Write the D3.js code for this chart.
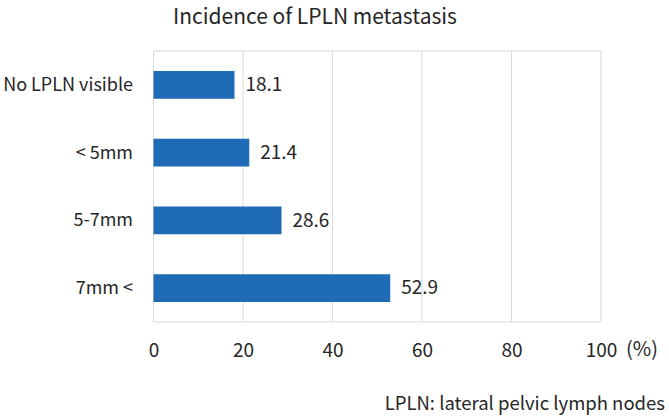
<!DOCTYPE html>
<html><head><meta charset="utf-8">
<script src="https://cdn.jsdelivr.net/npm/d3@7"></script>
<style>body{margin:0;background:#fff}svg{display:block}</style>
</head><body>
<script>
const categories = ["No LPLN visible", "< 5mm", "5-7mm", "7mm <"];
const values = [18.1, 21.4, 28.6, 52.9];
const ticks = [0, 20, 40, 60, 80, 100];
const title = "Incidence of LPLN metastasis";
const unitLabel = "(%)";
const footnote = "LPLN: lateral pelvic lymph nodes";

const W = 669, H = 417;
const font = "'Noto Sans CJK JP', 'Noto Sans', sans-serif";
const txt = "#262626";
const svg = d3.select("body").append("svg").attr("width", W).attr("height", H)
  .style("font-family", font);

const x = d3.scaleLinear().domain([0, 100]).range([153.5, 601]);
const y = d3.scaleBand().domain(categories).range([51, 322]).paddingInner(0.59).paddingOuter(0.295);

// gridlines
svg.append("g").selectAll("line").data(ticks).join("line")
  .attr("x1", d => x(d)).attr("x2", d => x(d)).attr("y1", 51).attr("y2", 322)
  .attr("stroke", "#d9d9d9").attr("stroke-width", 1);
svg.append("line").attr("x1", x(0)).attr("x2", x(100)).attr("y1", 51).attr("y2", 51)
  .attr("stroke", "#d9d9d9");
svg.append("line").attr("x1", x(0)).attr("x2", x(100)).attr("y1", 322).attr("y2", 322)
  .attr("stroke", "#d9d9d9");

// bars
svg.append("g").selectAll("rect").data(values).join("rect")
  .attr("x", x(0)).attr("y", (d, i) => y(categories[i]))
  .attr("width", d => x(d) - x(0)).attr("height", y.bandwidth())
  .attr("fill", "#1f6bb5");

// value labels
svg.append("g").selectAll("text").data(values).join("text")
  .attr("x", d => x(d) + 11).attr("y", (d, i) => y(categories[i]) + y.bandwidth() / 2)
  .attr("dy", "0.33em").attr("font-size", 19).attr("fill", txt)
  .text(d => d.toFixed(1));

// category labels
svg.append("g").selectAll("text").data(categories).join("text")
  .attr("x", 133).attr("y", d => y(d) + y.bandwidth() / 2)
  .attr("dy", "0.33em").attr("text-anchor", "end").attr("font-size", 18).attr("fill", txt)
  .text(d => d);

// x axis labels
const xAxis = d3.axisBottom(x).tickValues(ticks).tickSize(0).tickPadding(0);
const gx = svg.append("g").attr("transform", "translate(0,351)").call(xAxis);
gx.select(".domain").remove();
gx.selectAll("text").attr("dy", "0.33em").attr("font-size", 19).attr("fill", txt).style("font-family", font);

svg.append("text").attr("x", 626).attr("y", 349).attr("dy", "0.33em")
  .attr("font-size", 20).attr("fill", txt).text(unitLabel);

svg.append("text").attr("x", 315).attr("y", 17).attr("dy", "0.33em").attr("text-anchor", "middle")
  .attr("font-size", 21).attr("fill", txt).text(title);

svg.append("text").attr("x", 665).attr("y", 404).attr("dy", "0.33em").attr("text-anchor", "end")
  .attr("font-size", 18.5).attr("fill", txt).text(footnote);
</script>
</body></html>
